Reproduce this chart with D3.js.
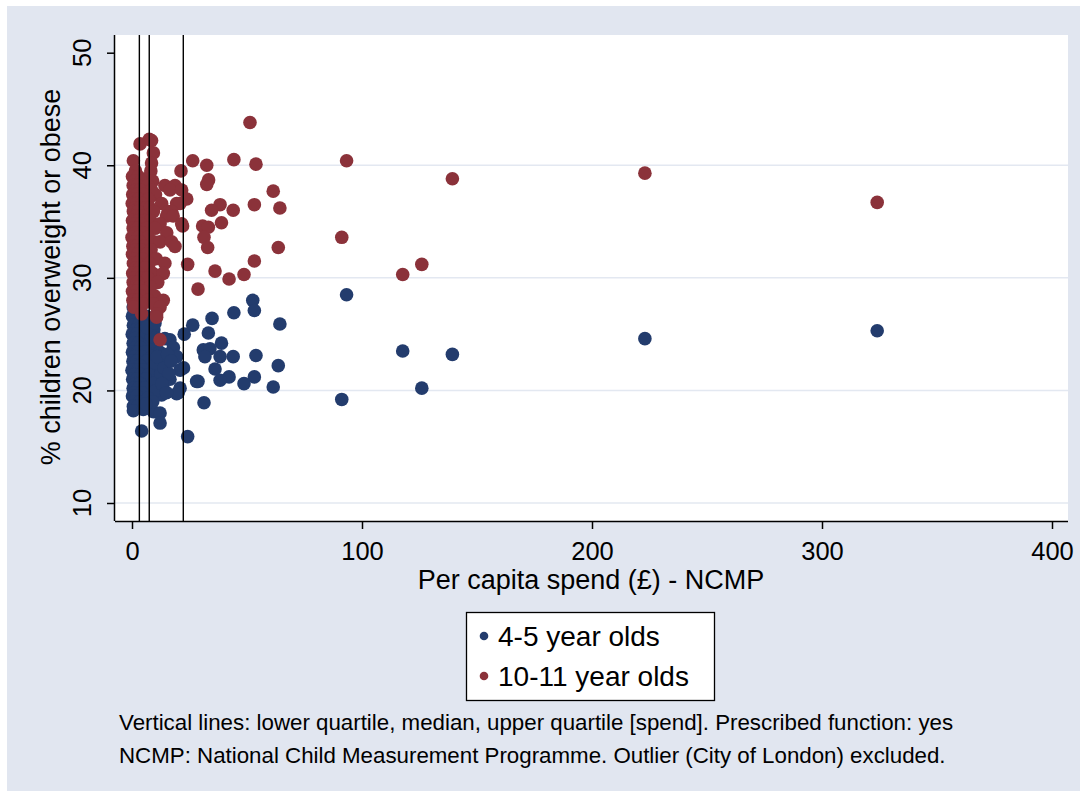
<!DOCTYPE html>
<html>
<head>
<meta charset="utf-8">
<script src="https://cdn.jsdelivr.net/npm/d3@7"></script>
<style>
  html, body { margin: 0; padding: 0; background: #ffffff; }
  svg text { font-family: "Liberation Sans", Arial, sans-serif; fill: #000; }
</style>
</head>
<body>
<div id="chart"></div>
<script>
// per capita spend (GBP) and % overweight/obese, 4-5 year olds
var spendYoung = [
  93.3, 52.5, 53.2, 64.3, 53.9, 63.6, 53.2, 61.4, 91.2, 117.7, 139.3, 126, 223, 324,
  44.3, 34.8, 26.4, 22.7, 33.2, 38.9, 31.0, 33.9, 31.7, 38.3, 44.0, 36.1, 42.2, 38.3,
  48.7, 28.7, 31.3, 24.2, 20.9, 19.4, 22.4, 20.9, 16.5, 28.1, 12.9, 20.1,
  0.5, 2.0, 1.2, 3.5, 0.2, 2.6, 6.0, 1.5, 4.0, 8.0, 0.6, 2.8, 5.5, 1.8, 3.8, 9.5,
  0.1, 2.2, 6.8, 1.2, 4.5, 11.0, 14.3, 0.5, 2.8, 7.6, 1.6, 3.6, 10.0, 18.0,
  0.2, 2.4, 5.8, 12.0, 1.0, 4.2, 8.8, 19.4, 0.4, 2.0, 6.4, 14.8, 1.4, 3.4, 9.6,
  0.0, 2.6, 5.0, 1.0, 4.0, 7.4, 12.5, 0.3, 2.2, 6.0, 16.5, 1.6, 3.5, 9.0,
  0.5, 2.8, 5.4, 13.5, 1.2, 4.2, 0.2, 2.0, 1.5, 3.5, 0.6, 2.5, 0.6, 4.9, 9.3,
  12.2, 12.2, 4.2,
  14.0, 16.0, 10.5, 7.0, 11.0, 15.5, 8.5, 6.5, 10.0, 17.0, 13.0, 9.0, 6.0, 15.0
];
var pctYoung = [
  28.5, 28.0, 27.1, 25.9, 23.1, 22.2, 21.2, 20.3, 19.2, 23.5, 23.2, 20.2, 24.6, 25.3,
  26.9, 26.4, 25.8, 25.0, 25.1, 24.2, 23.6, 23.7, 23.0, 23.0, 23.0, 21.9, 21.2, 20.9,
  20.6, 20.8, 18.9, 15.9, 20.2, 19.7, 22.0, 21.8, 24.5, 20.8, 19.6, 19.8,
  27.4, 27.4, 27.0, 27.0, 26.6, 26.6, 26.6, 26.2, 26.2, 26.2, 25.8, 25.8, 25.8, 25.4, 25.4, 25.4,
  25.0, 25.0, 25.0, 24.6, 24.6, 24.6, 24.6, 24.2, 24.2, 24.2, 23.8, 23.8, 23.8, 23.8,
  23.4, 23.4, 23.4, 23.4, 23.0, 23.0, 23.0, 23.0, 22.6, 22.6, 22.6, 22.6, 22.2, 22.2, 22.2,
  21.8, 21.8, 21.8, 21.4, 21.4, 21.4, 21.4, 21.0, 21.0, 21.0, 21.0, 20.6, 20.6, 20.6,
  20.2, 20.2, 20.2, 20.2, 19.8, 19.8, 19.5, 19.5, 19.0, 19.0, 18.6, 18.6, 18.2, 18.3, 18.1,
  18.0, 17.1, 16.4,
  22.0, 21.5, 20.0, 19.3, 23.0, 23.2, 24.8, 25.6, 26.0, 22.6, 20.6, 19.0, 18.8, 19.8
];

// per capita spend (GBP) and % overweight/obese, 10-11 year olds
var spendOld = [
  51.3, 26.4, 32.5, 44.3, 53.9, 21.3, 33.3, 32.5, 61.4, 64.3, 53.2, 44.0, 38.3, 34.6,
  38.9, 30.7, 33.2, 31.3, 32.9, 22.0, 63.6, 53.2, 24.2, 36.1, 42.2, 48.7, 28.7, 93.3,
  139.3, 223, 91.2, 126, 117.7, 324,
  0.6, 3.5, 7.5, 8.5, 9.3, 8.5, 1.5, 8.2, 0.2, 2.8, 7.6, 1.2, 4.0, 9.0,
  0.5, 2.5, 6.8, 14.3, 18.7, 1.8, 3.6, 8.5, 16.5, 21.6, 0.3, 2.2, 5.0, 10.2,
  1.0, 3.0, 7.2, 23.8, 0.1, 2.0, 4.4, 12.9, 19.4, 20.9, 1.4, 3.3, 6.0, 7.8,
  0.6, 2.6, 9.3, 15.8, 17.2, 1.7, 4.2, 15.0, 17.9, 0.2, 2.9, 5.5, 8.0,
  1.2, 3.8, 12.2, 21.6, 0.5, 2.3, 6.5, 10.0, 1.5, 4.6, 15.1, 0.0, 2.8, 7.0,
  1.0, 3.4, 9.5, 12.2, 17.2, 0.4, 2.0, 5.2, 18.7, 1.6, 3.9, 8.3, 0.2, 2.6, 6.2,
  1.2, 4.4, 10.5, 0.6, 2.2, 7.5, 14.3, 1.8, 3.5, 5.8, 0.3, 2.8, 9.0, 13.6,
  1.1, 4.0, 6.8, 0.5, 2.4, 11.2, 1.6, 3.2, 8.0, 0.2, 2.0, 5.0, 1.2, 3.6, 9.8,
  0.4, 2.6, 7.0, 13.6, 1.5, 4.8, 9.3, 12.2, 0.8, 4.2, 10.7, 10.7, 12.2
];
var pctOld = [
  43.8, 40.4, 40.0, 40.5, 40.1, 39.5, 38.7, 38.3, 37.7, 36.2, 36.5, 36.0, 36.5, 36.0,
  34.9, 34.6, 34.5, 33.6, 32.7, 34.6, 32.7, 31.5, 31.2, 30.6, 29.9, 30.3, 29.0, 40.4,
  38.8, 39.3, 33.6, 31.2, 30.3, 36.7,
  40.4, 41.9, 42.3, 42.2, 41.1, 40.2, 39.5, 39.5, 39.0, 39.0, 39.0, 38.6, 38.6, 38.6,
  38.2, 38.2, 38.2, 38.2, 38.2, 37.8, 37.8, 37.8, 37.8, 37.8, 37.4, 37.4, 37.4, 37.4,
  37.0, 37.0, 37.0, 37.0, 36.6, 36.6, 36.6, 36.6, 36.6, 36.6, 36.2, 36.2, 36.2, 36.2,
  35.9, 35.9, 35.9, 35.9, 35.9, 35.5, 35.5, 35.5, 35.5, 35.1, 35.1, 35.1, 35.1,
  34.8, 34.8, 34.8, 34.8, 34.4, 34.4, 34.4, 34.4, 34.0, 34.0, 34.0, 33.6, 33.6, 33.6,
  33.2, 33.2, 33.2, 33.2, 33.2, 32.8, 32.8, 32.8, 32.8, 32.5, 32.5, 32.5, 32.1, 32.1, 32.1,
  31.7, 31.7, 31.7, 31.3, 31.3, 31.3, 31.3, 30.9, 30.9, 30.9, 30.4, 30.4, 30.4, 30.4,
  30.0, 30.0, 30.0, 29.6, 29.6, 29.6, 29.2, 29.2, 29.2, 28.8, 28.8, 28.8, 28.4, 28.4, 28.4,
  28.0, 28.0, 28.0, 28.0, 27.7, 27.7, 27.7, 27.4, 27.4, 26.8, 26.8, 26.5, 24.5
];

// lower quartile, median, upper quartile of spend
var quartiles = [3.2, 7.5, 22.3];

var xTicks = [0, 100, 200, 300, 400];
var yTicks = [10, 20, 30, 40, 50];
var yGrid = [10, 20, 30, 40];

var seriesNames = ["4-5 year olds", "10-11 year olds"];
var seriesColors = ["#233c6d", "#8b323a"];

var W = 1085, H = 796;
var plot = { left: 115, right: 1068, top: 35, bottom: 521 };

var svg = d3.select("#chart").append("svg")
  .attr("width", W)
  .attr("height", H);

// outer panel
svg.append("rect").attr("x", 7).attr("y", 6).attr("width", 1073).attr("height", 785)
  .attr("fill", "#e1e6f0");

svg.append("rect")
  .attr("x", plot.left).attr("y", plot.top)
  .attr("width", plot.right - plot.left).attr("height", plot.bottom - plot.top)
  .attr("fill", "#ffffff");

var x = d3.scaleLinear().domain([0, 400]).range([132, 1052]);
var y = d3.scaleLinear().domain([10, 50]).range([503, 52.7]);

// grid
svg.append("g").selectAll("line")
  .data(yGrid)
  .enter().append("line")
  .attr("x1", plot.left).attr("x2", plot.right)
  .attr("y1", function (d) { return y(d) }).attr("y2", function (d) { return y(d) })
  .attr("stroke", "#e3e8f1").attr("stroke-width", 1.5);

// points, younger group first so the older group sits on top
var groups = [
  { name: seriesNames[0], color: seriesColors[0], spend: spendYoung, pct: pctYoung },
  { name: seriesNames[1], color: seriesColors[1], spend: spendOld, pct: pctOld }
];

groups.forEach(function (g) {
  var pts = g.spend.map(function (s, i) { return { s: s, p: g.pct[i] } });
  svg.append("g").selectAll("circle")
    .data(pts)
    .enter().append("circle")
    .attr("cx", function (d) { return x(d.s) })
    .attr("cy", function (d) { return y(d.p) })
    .attr("r", 6.8)
    .attr("fill", g.color);
});

// quartile lines
svg.append("g").selectAll("line")
  .data(quartiles)
  .enter().append("line")
  .attr("x1", function (d) { return x(d) }).attr("x2", function (d) { return x(d) })
  .attr("y1", plot.top).attr("y2", plot.bottom)
  .attr("stroke", "#000").attr("stroke-width", 1.4);

// x axis
var xAxis = d3.axisBottom(x).tickValues(xTicks).tickSize(8).tickPadding(13);
var gx = svg.append("g").attr("transform", "translate(0," + plot.bottom + ")").call(xAxis);
gx.select(".domain").attr("d", "M" + plot.left + ",0.5H" + plot.right).attr("stroke", "#000").attr("stroke-width", 1.5);
gx.selectAll(".tick line").attr("stroke", "#000").attr("stroke-width", 1.5);
gx.selectAll(".tick text").attr("font-size", 25.5).attr("font-family", "Liberation Sans, Arial, sans-serif").attr("fill", "#000");

// y axis
var yAxis = d3.axisLeft(y).tickValues(yTicks).tickSize(8).tickFormat("");
var gy = svg.append("g").attr("transform", "translate(" + plot.left + ",0)").call(yAxis);
gy.select(".domain").attr("d", "M-0.5," + plot.top + "V" + plot.bottom).attr("stroke", "#000").attr("stroke-width", 1.5);
gy.selectAll(".tick line").attr("stroke", "#000").attr("stroke-width", 1.5);

svg.append("g").selectAll("text")
  .data(yTicks)
  .enter().append("text")
  .attr("transform", function (d) { return "translate(91," + y(d) + ") rotate(-90)" })
  .attr("text-anchor", "middle")
  .attr("font-size", 25.5)
  .text(function (d) { return d });

// axis titles
svg.append("text")
  .attr("transform", "translate(60,277) rotate(-90)")
  .attr("text-anchor", "middle")
  .attr("font-size", 27)
  .text("% children overweight or obese");

svg.append("text")
  .attr("x", 591).attr("y", 589)
  .attr("text-anchor", "middle")
  .attr("font-size", 27)
  .text("Per capita spend (£) - NCMP");

// legend
var legend = svg.append("g");
legend.append("rect")
  .attr("x", 466.5).attr("y", 612.5).attr("width", 248).attr("height", 88)
  .attr("fill", "#fff").attr("stroke", "#000").attr("stroke-width", 1.3);

legend.selectAll("circle")
  .data(groups)
  .enter().append("circle")
  .attr("cx", 484)
  .attr("cy", function (d, i) { return 636 + i * 40 })
  .attr("r", 4.3)
  .attr("fill", function (d) { return d.color });

legend.selectAll("text")
  .data(groups)
  .enter().append("text")
  .attr("x", 498)
  .attr("y", function (d, i) { return 646 + i * 40 })
  .attr("font-size", 28)
  .text(function (d) { return d.name });

// notes
var notes = [
  "Vertical lines: lower quartile, median, upper quartile [spend]. Prescribed function: yes",
  "NCMP: National Child Measurement Programme. Outlier (City of London) excluded."
];
svg.append("g").selectAll("text")
  .data(notes)
  .enter().append("text")
  .attr("x", 119)
  .attr("y", function (d, i) { return 730 + i * 33 })
  .attr("font-size", 22.3)
  .text(function (d) { return d });
</script>
</body>
</html>
